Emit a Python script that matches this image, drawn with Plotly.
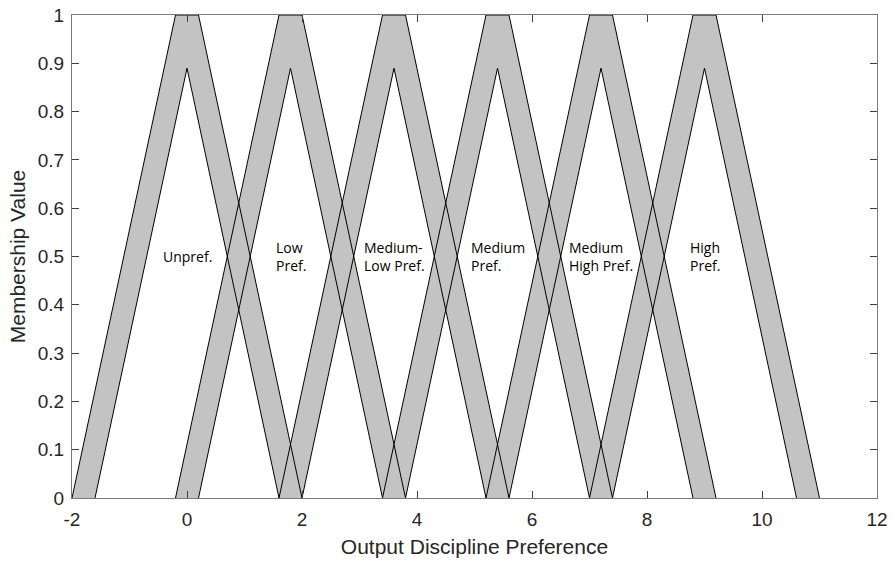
import plotly.graph_objects as go

# Interval type-2 fuzzy sets for the output variable
set_names = ["Unpref.", "Low<br>Pref.", "Medium-<br>Low Pref.", "Medium<br>Pref.",
             "Medium<br>High Pref.", "High<br>Pref."]
centers = [0.0, 1.8, 3.6, 5.4, 7.2, 9.0]

# Upper membership function: trapezoid (a, b, c, d) with height 1
upper_a = [-2.0, -0.2, 1.6, 3.4, 5.2, 7.0]
upper_b = [-0.2, 1.6, 3.4, 5.2, 7.0, 8.8]
upper_c = [0.2, 2.0, 3.8, 5.6, 7.4, 9.2]
upper_d = [2.0, 3.8, 5.6, 7.4, 9.2, 11.0]
upper_height = 1.0

# Lower membership function: triangle (a, b, c) with reduced height
lower_a = [-1.6, 0.2, 2.0, 3.8, 5.6, 7.4]
lower_b = [0.0, 1.8, 3.6, 5.4, 7.2, 9.0]
lower_c = [1.6, 3.4, 5.2, 7.0, 8.8, 10.6]
lower_height = 0.89

x_ticks = [-2, 0, 2, 4, 6, 8, 10, 12]
x_tick_text = ["-2", "0", "2", "4", "6", "8", "10", "12"]
y_ticks = [0, 0.1, 0.2, 0.3, 0.4, 0.5, 0.6, 0.7, 0.8, 0.9, 1]
y_tick_text = ["0", "0.1", "0.2", "0.3", "0.4", "0.5", "0.6", "0.7", "0.8", "0.9", "1"]

FOU_COLOR = "#c3c3c3"
AXIS_COLOR = "#7a7a7a"
TEXT_COLOR = "#262626"
SANS = "Arial, Liberation Sans, sans-serif"

fig = go.Figure()

# Footprint of uncertainty (shaded band between upper and lower MFs)
for i in range(len(centers)):
    xs = [upper_a[i], upper_b[i], upper_c[i], upper_d[i],
          lower_c[i], lower_b[i], lower_a[i], upper_a[i]]
    ys = [0, upper_height, upper_height, 0, 0, lower_height, 0, 0]
    fig.add_trace(go.Scatter(x=xs, y=ys, fill="toself", fillcolor=FOU_COLOR,
                             mode="lines", line=dict(width=0),
                             hoverinfo="skip", showlegend=False))

# Outlines of the upper and lower MFs, drawn over all the fills
for i in range(len(centers)):
    fig.add_trace(go.Scatter(
        x=[upper_a[i], upper_b[i], upper_c[i], upper_d[i]],
        y=[0, upper_height, upper_height, 0],
        mode="lines", line=dict(color="black", width=1),
        showlegend=False))
    fig.add_trace(go.Scatter(
        x=[lower_a[i], lower_b[i], lower_c[i]],
        y=[0, lower_height, 0],
        mode="lines", line=dict(color="black", width=1),
        showlegend=False))

# Set names
for name, c in zip(set_names, centers):
    fig.add_annotation(x=c, y=0.5, text=name, showarrow=False,
                       xanchor="center", yanchor="middle", align="left",
                       font=dict(family="Open Sans, Noto Sans, sans-serif",
                                 size=14, color="black"))

axis_common = dict(
    showline=True, linecolor=AXIS_COLOR, linewidth=1.3, mirror="ticks",
    ticks="inside", ticklen=7, tickcolor="#404040", tickwidth=1,
    showgrid=False, zeroline=False, automargin=False,
    tickfont=dict(family=SANS, size=19, color=TEXT_COLOR),
)

fig.update_xaxes(range=[-2, 12], tickvals=x_ticks, ticktext=x_tick_text,
                 ticklabelstandoff=4,
                 title=dict(text="Output Discipline Preference", standoff=10,
                            font=dict(family=SANS, size=21, color=TEXT_COLOR)),
                 **axis_common)
fig.update_yaxes(range=[0, 1], tickvals=y_ticks, ticktext=y_tick_text,
                 ticklabelstandoff=3,
                 title=dict(text="Membership Value", standoff=6,
                            font=dict(family=SANS, size=21, color=TEXT_COLOR)),
                 **axis_common)

fig.update_layout(
    width=893, height=563,
    margin=dict(l=72, r=16, t=15, b=65),
    plot_bgcolor="white", paper_bgcolor="white",
)

fig.write_html("out.html")
